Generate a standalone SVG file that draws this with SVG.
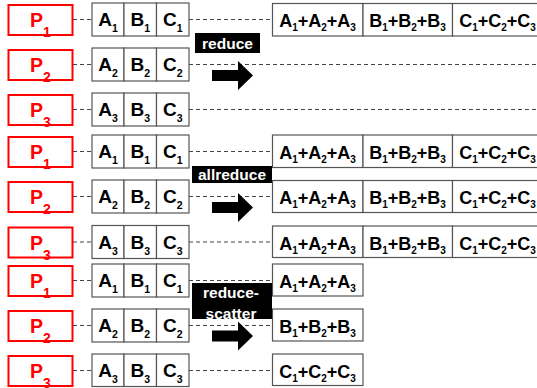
<svg xmlns="http://www.w3.org/2000/svg" width="537" height="388" viewBox="0 0 537 388">
  <style>
    text { font-family: "Liberation Sans", Arial, sans-serif; font-weight: bold; }
    .proc { fill: #fff; stroke: #f00; stroke-width: 2; }
    .ptxt { fill: #f00; font-size: 19.5px; text-anchor: middle; }
    .psub { font-size: 14px; }
    .cell { fill: #fff; stroke: #555; stroke-width: 1.2; }
    .ctxt { fill: #000; font-size: 19px; text-anchor: middle; }
    .csub { font-size: 10.5px; }
    .rtxt { fill: #000; font-size: 18px; text-anchor: middle; }
    .rsub { font-size: 10px; }
    .link { stroke: #444; stroke-width: 1.2; stroke-dasharray: 4 3; fill: none; }
    .lbl { fill: #000; }
    .ltxt { fill: #fff; font-size: 15.5px; text-anchor: middle; }
    .arrow { fill: #000; }
  </style>
  <defs>
    <path id="fat-arrow" d="M0,-5.5 H26 V-14.5 L41,0 L26,14.5 V5.5 H0 Z"/>
  </defs>

  <!-- dashed connectors -->
  <g id="connectors" class="link">
    <!-- reduce -->
    <line x1="73" y1="19.5" x2="92" y2="19.5"/><line x1="189" y1="19.5" x2="272" y2="19.5"/>
    <line x1="73" y1="64.5" x2="92" y2="64.5"/><line x1="189" y1="64.5" x2="537" y2="64.5"/>
    <line x1="73" y1="109.5" x2="92" y2="109.5"/><line x1="189" y1="109.5" x2="537" y2="109.5"/>
    <!-- allreduce -->
    <line x1="73" y1="151.5" x2="92" y2="151.5"/><line x1="189" y1="151.5" x2="272" y2="151.5"/>
    <line x1="73" y1="196.5" x2="92" y2="196.5"/><line x1="189" y1="196.5" x2="272" y2="196.5"/>
    <line x1="73" y1="242" x2="92" y2="242"/><line x1="189" y1="242" x2="272" y2="242"/>
    <!-- reduce-scatter -->
    <line x1="73" y1="280.5" x2="92" y2="280.5"/><line x1="189" y1="280.5" x2="272" y2="280.5"/>
    <line x1="73" y1="325.5" x2="92" y2="325.5"/><line x1="189" y1="325.5" x2="272" y2="325.5"/>
    <line x1="73" y1="370.5" x2="92" y2="370.5"/><line x1="189" y1="370.5" x2="272" y2="370.5"/>
  </g>

  <!-- ===== reduce ===== -->
  <g id="reduce-p1" transform="translate(0,3)">
    <rect class="proc" x="8.5" y="2" width="64" height="30"/>
    <text class="ptxt" x="40.5" y="24">P<tspan class="psub" dy="10">1</tspan></text>
  </g>
  <g id="reduce-d1" transform="translate(0,3)">
    <rect class="cell" x="92" y="0" width="32" height="33"/><rect class="cell" x="124" y="0" width="32.5" height="33"/><rect class="cell" x="156.5" y="0" width="32.5" height="33"/>
    <text class="ctxt" x="108" y="23">A<tspan class="csub" dy="6">1</tspan></text>
    <text class="ctxt" x="140.3" y="23">B<tspan class="csub" dy="6">1</tspan></text>
    <text class="ctxt" x="172.8" y="23">C<tspan class="csub" dy="6">1</tspan></text>
  </g>
  <g id="reduce-r1" transform="translate(0,3.5)">
    <rect class="cell" x="272.5" y="0" width="90.5" height="32.5"/><rect class="cell" x="363" y="0" width="89.5" height="32.5"/><rect class="cell" x="452.5" y="0" width="90" height="32.5"/>
    <text class="rtxt" x="317.5" y="23.5">A<tspan class="rsub" dy="4">1</tspan><tspan dy="-4">+A</tspan><tspan class="rsub" dy="4">2</tspan><tspan dy="-4">+A</tspan><tspan class="rsub" dy="4">3</tspan></text>
    <text class="rtxt" x="407.5" y="23.5">B<tspan class="rsub" dy="4">1</tspan><tspan dy="-4">+B</tspan><tspan class="rsub" dy="4">2</tspan><tspan dy="-4">+B</tspan><tspan class="rsub" dy="4">3</tspan></text>
    <text class="rtxt" x="497.5" y="23.5">C<tspan class="rsub" dy="4">1</tspan><tspan dy="-4">+C</tspan><tspan class="rsub" dy="4">2</tspan><tspan dy="-4">+C</tspan><tspan class="rsub" dy="4">3</tspan></text>
  </g>
  <g id="reduce-p2" transform="translate(0,48)">
    <rect class="proc" x="8.5" y="2" width="64" height="30"/>
    <text class="ptxt" x="40.5" y="24">P<tspan class="psub" dy="10">2</tspan></text>
  </g>
  <g id="reduce-d2" transform="translate(0,48)">
    <rect class="cell" x="92" y="0" width="32" height="33"/><rect class="cell" x="124" y="0" width="32.5" height="33"/><rect class="cell" x="156.5" y="0" width="32.5" height="33"/>
    <text class="ctxt" x="108" y="23">A<tspan class="csub" dy="6">2</tspan></text>
    <text class="ctxt" x="140.3" y="23">B<tspan class="csub" dy="6">2</tspan></text>
    <text class="ctxt" x="172.8" y="23">C<tspan class="csub" dy="6">2</tspan></text>
  </g>
  <g id="reduce-p3" transform="translate(0,93)">
    <rect class="proc" x="8.5" y="2" width="64" height="30"/>
    <text class="ptxt" x="40.5" y="24">P<tspan class="psub" dy="10">3</tspan></text>
  </g>
  <g id="reduce-d3" transform="translate(0,93)">
    <rect class="cell" x="92" y="0" width="32" height="33"/><rect class="cell" x="124" y="0" width="32.5" height="33"/><rect class="cell" x="156.5" y="0" width="32.5" height="33"/>
    <text class="ctxt" x="108" y="23">A<tspan class="csub" dy="6">3</tspan></text>
    <text class="ctxt" x="140.3" y="23">B<tspan class="csub" dy="6">3</tspan></text>
    <text class="ctxt" x="172.8" y="23">C<tspan class="csub" dy="6">3</tspan></text>
  </g>
  <g id="reduce-op">
    <rect class="lbl" x="195" y="33" width="65" height="20"/>
    <text class="ltxt" x="227.5" y="49">reduce</text>
    <use href="#fat-arrow" class="arrow" x="212" y="75.5"/>
  </g>

  <!-- ===== allreduce ===== -->
  <g id="allreduce-p1" transform="translate(0,135)">
    <rect class="proc" x="8.5" y="2" width="64" height="30"/>
    <text class="ptxt" x="40.5" y="24">P<tspan class="psub" dy="10">1</tspan></text>
  </g>
  <g id="allreduce-d1" transform="translate(0,135)">
    <rect class="cell" x="92" y="0" width="32" height="33"/><rect class="cell" x="124" y="0" width="32.5" height="33"/><rect class="cell" x="156.5" y="0" width="32.5" height="33"/>
    <text class="ctxt" x="108" y="23">A<tspan class="csub" dy="6">1</tspan></text>
    <text class="ctxt" x="140.3" y="23">B<tspan class="csub" dy="6">1</tspan></text>
    <text class="ctxt" x="172.8" y="23">C<tspan class="csub" dy="6">1</tspan></text>
  </g>
  <g id="allreduce-r1" transform="translate(0,135)">
    <rect class="cell" x="272.5" y="0" width="90.5" height="32.5"/><rect class="cell" x="363" y="0" width="89.5" height="32.5"/><rect class="cell" x="452.5" y="0" width="90" height="32.5"/>
    <text class="rtxt" x="317.5" y="23.5">A<tspan class="rsub" dy="4">1</tspan><tspan dy="-4">+A</tspan><tspan class="rsub" dy="4">2</tspan><tspan dy="-4">+A</tspan><tspan class="rsub" dy="4">3</tspan></text>
    <text class="rtxt" x="407.5" y="23.5">B<tspan class="rsub" dy="4">1</tspan><tspan dy="-4">+B</tspan><tspan class="rsub" dy="4">2</tspan><tspan dy="-4">+B</tspan><tspan class="rsub" dy="4">3</tspan></text>
    <text class="rtxt" x="497.5" y="23.5">C<tspan class="rsub" dy="4">1</tspan><tspan dy="-4">+C</tspan><tspan class="rsub" dy="4">2</tspan><tspan dy="-4">+C</tspan><tspan class="rsub" dy="4">3</tspan></text>
  </g>
  <g id="allreduce-p2" transform="translate(0,180)">
    <rect class="proc" x="8.5" y="2" width="64" height="30"/>
    <text class="ptxt" x="40.5" y="24">P<tspan class="psub" dy="10">2</tspan></text>
  </g>
  <g id="allreduce-d2" transform="translate(0,180)">
    <rect class="cell" x="92" y="0" width="32" height="33"/><rect class="cell" x="124" y="0" width="32.5" height="33"/><rect class="cell" x="156.5" y="0" width="32.5" height="33"/>
    <text class="ctxt" x="108" y="23">A<tspan class="csub" dy="6">2</tspan></text>
    <text class="ctxt" x="140.3" y="23">B<tspan class="csub" dy="6">2</tspan></text>
    <text class="ctxt" x="172.8" y="23">C<tspan class="csub" dy="6">2</tspan></text>
  </g>
  <g id="allreduce-r2" transform="translate(0,180.5)">
    <rect class="cell" x="272.5" y="0" width="90.5" height="32"/><rect class="cell" x="363" y="0" width="89.5" height="32"/><rect class="cell" x="452.5" y="0" width="90" height="32"/>
    <text class="rtxt" x="317.5" y="23.5">A<tspan class="rsub" dy="4">1</tspan><tspan dy="-4">+A</tspan><tspan class="rsub" dy="4">2</tspan><tspan dy="-4">+A</tspan><tspan class="rsub" dy="4">3</tspan></text>
    <text class="rtxt" x="407.5" y="23.5">B<tspan class="rsub" dy="4">1</tspan><tspan dy="-4">+B</tspan><tspan class="rsub" dy="4">2</tspan><tspan dy="-4">+B</tspan><tspan class="rsub" dy="4">3</tspan></text>
    <text class="rtxt" x="497.5" y="23.5">C<tspan class="rsub" dy="4">1</tspan><tspan dy="-4">+C</tspan><tspan class="rsub" dy="4">2</tspan><tspan dy="-4">+C</tspan><tspan class="rsub" dy="4">3</tspan></text>
  </g>
  <g id="allreduce-p3" transform="translate(0,225.5)">
    <rect class="proc" x="8.5" y="2" width="64" height="30"/>
    <text class="ptxt" x="40.5" y="24">P<tspan class="psub" dy="10">3</tspan></text>
  </g>
  <g id="allreduce-d3" transform="translate(0,225.5)">
    <rect class="cell" x="92" y="0" width="32" height="33"/><rect class="cell" x="124" y="0" width="32.5" height="33"/><rect class="cell" x="156.5" y="0" width="32.5" height="33"/>
    <text class="ctxt" x="108" y="23">A<tspan class="csub" dy="6">3</tspan></text>
    <text class="ctxt" x="140.3" y="23">B<tspan class="csub" dy="6">3</tspan></text>
    <text class="ctxt" x="172.8" y="23">C<tspan class="csub" dy="6">3</tspan></text>
  </g>
  <g id="allreduce-r3" transform="translate(0,226)">
    <rect class="cell" x="272.5" y="0" width="90.5" height="31.5"/><rect class="cell" x="363" y="0" width="89.5" height="31.5"/><rect class="cell" x="452.5" y="0" width="90" height="31.5"/>
    <text class="rtxt" x="317.5" y="23.5">A<tspan class="rsub" dy="4">1</tspan><tspan dy="-4">+A</tspan><tspan class="rsub" dy="4">2</tspan><tspan dy="-4">+A</tspan><tspan class="rsub" dy="4">3</tspan></text>
    <text class="rtxt" x="407.5" y="23.5">B<tspan class="rsub" dy="4">1</tspan><tspan dy="-4">+B</tspan><tspan class="rsub" dy="4">2</tspan><tspan dy="-4">+B</tspan><tspan class="rsub" dy="4">3</tspan></text>
    <text class="rtxt" x="497.5" y="23.5">C<tspan class="rsub" dy="4">1</tspan><tspan dy="-4">+C</tspan><tspan class="rsub" dy="4">2</tspan><tspan dy="-4">+C</tspan><tspan class="rsub" dy="4">3</tspan></text>
  </g>
  <g id="allreduce-op">
    <rect class="lbl" x="192" y="166" width="80" height="17"/>
    <text class="ltxt" x="232" y="180">allreduce</text>
    <use href="#fat-arrow" class="arrow" x="212" y="207.5"/>
  </g>

  <!-- ===== reduce-scatter ===== -->
  <g id="scatter-p1" transform="translate(0,264)">
    <rect class="proc" x="8.5" y="2" width="64" height="30"/>
    <text class="ptxt" x="40.5" y="24">P<tspan class="psub" dy="10">1</tspan></text>
  </g>
  <g id="scatter-d1" transform="translate(0,264)">
    <rect class="cell" x="92" y="0" width="32" height="33"/><rect class="cell" x="124" y="0" width="32.5" height="33"/><rect class="cell" x="156.5" y="0" width="32.5" height="33"/>
    <text class="ctxt" x="108" y="23">A<tspan class="csub" dy="6">1</tspan></text>
    <text class="ctxt" x="140.3" y="23">B<tspan class="csub" dy="6">1</tspan></text>
    <text class="ctxt" x="172.8" y="23">C<tspan class="csub" dy="6">1</tspan></text>
  </g>
  <g id="scatter-r1" transform="translate(0,264)">
    <rect class="cell" x="272.5" y="0" width="90.5" height="32"/>
    <text class="rtxt" x="317.5" y="23.5">A<tspan class="rsub" dy="4">1</tspan><tspan dy="-4">+A</tspan><tspan class="rsub" dy="4">2</tspan><tspan dy="-4">+A</tspan><tspan class="rsub" dy="4">3</tspan></text>
  </g>
  <g id="scatter-p2" transform="translate(0,309)">
    <rect class="proc" x="8.5" y="2" width="64" height="30"/>
    <text class="ptxt" x="40.5" y="24">P<tspan class="psub" dy="10">2</tspan></text>
  </g>
  <g id="scatter-d2" transform="translate(0,309)">
    <rect class="cell" x="92" y="0" width="32" height="33"/><rect class="cell" x="124" y="0" width="32.5" height="33"/><rect class="cell" x="156.5" y="0" width="32.5" height="33"/>
    <text class="ctxt" x="108" y="23">A<tspan class="csub" dy="6">2</tspan></text>
    <text class="ctxt" x="140.3" y="23">B<tspan class="csub" dy="6">2</tspan></text>
    <text class="ctxt" x="172.8" y="23">C<tspan class="csub" dy="6">2</tspan></text>
  </g>
  <g id="scatter-r2" transform="translate(0,309)">
    <rect class="cell" x="272.5" y="0" width="90.5" height="32"/>
    <text class="rtxt" x="317.5" y="23.5">B<tspan class="rsub" dy="4">1</tspan><tspan dy="-4">+B</tspan><tspan class="rsub" dy="4">2</tspan><tspan dy="-4">+B</tspan><tspan class="rsub" dy="4">3</tspan></text>
  </g>
  <g id="scatter-p3" transform="translate(0,354)">
    <rect class="proc" x="8.5" y="2" width="64" height="30"/>
    <text class="ptxt" x="40.5" y="24">P<tspan class="psub" dy="10">3</tspan></text>
  </g>
  <g id="scatter-d3" transform="translate(0,354)">
    <rect class="cell" x="92" y="0" width="32" height="32.5"/><rect class="cell" x="124" y="0" width="32.5" height="32.5"/><rect class="cell" x="156.5" y="0" width="32.5" height="32.5"/>
    <text class="ctxt" x="108" y="23">A<tspan class="csub" dy="6">3</tspan></text>
    <text class="ctxt" x="140.3" y="23">B<tspan class="csub" dy="6">3</tspan></text>
    <text class="ctxt" x="172.8" y="23">C<tspan class="csub" dy="6">3</tspan></text>
  </g>
  <g id="scatter-r3" transform="translate(0,354)">
    <rect class="cell" x="272.5" y="0" width="90.5" height="31.5"/>
    <text class="rtxt" x="317.5" y="23.5">C<tspan class="rsub" dy="4">1</tspan><tspan dy="-4">+C</tspan><tspan class="rsub" dy="4">2</tspan><tspan dy="-4">+C</tspan><tspan class="rsub" dy="4">3</tspan></text>
  </g>
  <g id="scatter-op">
    <rect class="lbl" x="192" y="283" width="80" height="36"/>
    <text class="ltxt" x="231" y="297.5">reduce-</text>
    <text class="ltxt" x="231" y="318.5">scatter</text>
    <use href="#fat-arrow" class="arrow" x="212" y="336"/>
  </g>
</svg>
